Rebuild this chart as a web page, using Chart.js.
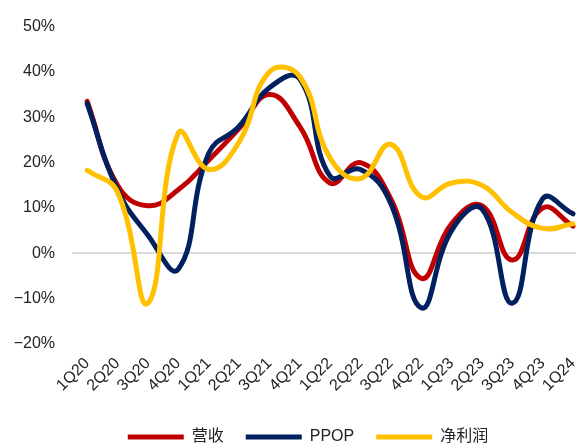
<!DOCTYPE html>
<html>
<head>
<meta charset="utf-8">
<script src="https://cdn.jsdelivr.net/npm/chart.js@4"></script>
<style>
  html, body { margin: 0; padding: 0; background: #fff; }
  #wrap { width: 576px; height: 445px; position: relative; }
</style>
</head>
<body>
<div id="wrap"><canvas id="growth_chart"></canvas></div>
<script>
// quarters on the x axis
const quarters = ['1Q20', '2Q20', '3Q20', '4Q20', '1Q21', '2Q21', '3Q21', '4Q21', '1Q22',
  '2Q22', '3Q22', '4Q22', '1Q23', '2Q23', '3Q23', '4Q23', '1Q24'];

// yoy growth, %
const revenue = [33.5, 15, 10.5, 14, 20.5, 27.5, 35, 28, 15.5, 20, 12, -5.5, 6.5, 10.5, -1.5, 10, 6];
const ppop = [33, 14, 4, -3.5, 22, 28, 36.5, 38.5, 17, 18.5, 11, -12, 5, 9.8, -11, 12, 8.7];
const net_profit = [18.3, 13.5, -11, 26.5, 18.5, 24.5, 40, 39, 21, 16.5, 24, 12.5, 15.5, 15, 9, 5.5, 6.5];

const series_names = ['营收', 'PPOP', '净利润'];
const y_ticks = [-20, -10, 0, 10, 20, 30, 40, 50];

const to_points = arr => arr.map((v, i) => ({ x: i, y: v }));

function make_dataset(label, values, color, order) {
  return {
    label: label,
    data: to_points(values),
    borderColor: color,
    backgroundColor: color,
    borderWidth: 5,
    borderCapStyle: 'round',
    pointRadius: 0,
    pointHoverRadius: 0,
    tension: 0.45,
    fill: false,
    order: order
  };
}

// legend sits a bit right of the canvas centre in the original
const legend_shift = {
  id: 'legend_shift',
  afterLayout(chart) {
    chart.legend.left += 20;
    chart.legend.right += 20;
  }
};

const ctx = document.getElementById('growth_chart').getContext('2d');

const growth_chart = new Chart(ctx, {
  type: 'line',
  data: {
    datasets: [
      make_dataset(series_names[0], revenue, '#C00000', 2),
      make_dataset(series_names[1], ppop, '#002060', 1),
      make_dataset(series_names[2], net_profit, '#FFC000', 0)
    ]
  },
  options: {
    responsive: true,
    maintainAspectRatio: false,
    animation: false,
    layout: { padding: { top: 23, right: 0, bottom: -10, left: 0 } },
    plugins: {
      legend: {
        position: 'bottom',
        labels: {
          usePointStyle: true,
          pointStyle: 'line',
          pointStyleWidth: 56,
          padding: 22,
          color: '#222',
          font: { family: "'Liberation Sans', 'Noto Sans CJK SC'", size: 16 },
          sort: (a, b) => a.datasetIndex - b.datasetIndex
        }
      },
      tooltip: { enabled: false }
    },
    scales: {
      x: {
        type: 'linear',
        min: -0.5,
        max: 16.1,
        grid: { display: false, drawTicks: false },
        border: { display: false },
        afterBuildTicks: scale => {
          scale.ticks = quarters.map((q, i) => ({ value: i }));
        },
        afterFit: scale => {
          scale.height = 63;
          scale.paddingLeft = 0;
          scale.paddingRight = 0;
        },
        ticks: {
          autoSkip: false,
          maxRotation: 45,
          minRotation: 45,
          padding: 10,
          color: '#222',
          font: { family: "'Liberation Sans'", size: 16 },
          callback: value => quarters[value]
        }
      },
      y: {
        min: -20,
        max: 50,
        afterBuildTicks: scale => {
          scale.ticks = y_ticks.map(v => ({ value: v }));
        },
        afterFit: scale => { scale.width = 72; },
        grid: {
          drawTicks: false,
          lineWidth: 2,
          color: c => (c.tick && c.tick.value === 0 ? '#D9D9D9' : 'rgba(0,0,0,0)')
        },
        border: { display: false },
        ticks: {
          padding: 17,
          color: '#222',
          font: { family: "'Liberation Sans'", size: 16 },
          callback: v => (v < 0 ? '\u2212' + Math.abs(v) : v) + '%'
        }
      }
    }
  },
  plugins: [legend_shift]
});
</script>
</body>
</html>
